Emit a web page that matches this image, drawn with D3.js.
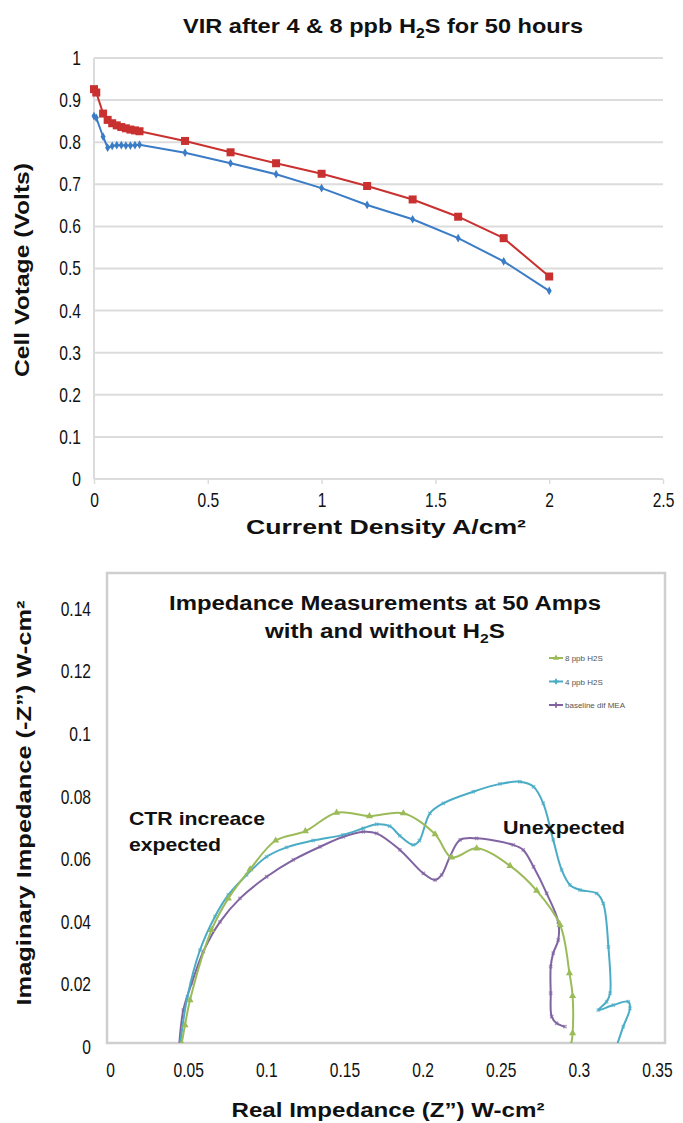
<!DOCTYPE html>
<html><head><meta charset="utf-8">
<script src="https://cdn.jsdelivr.net/npm/d3@7/dist/d3.min.js"></script>
<style>
body{margin:0;background:#fff;}
svg{display:block;font-family:"Liberation Sans",Arial,sans-serif;}
</style></head>
<body>
<svg id="c" width="683" height="1123"></svg>
<script>
// ---------- Top chart data ----------
const currentDensity = [0, 0.01, 0.04, 0.06, 0.08, 0.1, 0.12, 0.14, 0.16, 0.18, 0.2, 0.4, 0.6, 0.8, 1.0, 1.2, 1.4, 1.6, 1.8, 2.0];
const voltage8ppb = [0.926, 0.918, 0.868, 0.853, 0.845, 0.840, 0.836, 0.833, 0.830, 0.828, 0.826, 0.803, 0.776, 0.750, 0.725, 0.696, 0.664, 0.623, 0.572, 0.481];
const voltage4ppb = [0.862, 0.858, 0.813, 0.787, 0.791, 0.793, 0.793, 0.792, 0.792, 0.793, 0.794, 0.775, 0.750, 0.724, 0.691, 0.651, 0.617, 0.572, 0.517, 0.447];
const topXTicks = [0, 0.5, 1, 1.5, 2, 2.5];
const topYTicks = [0, 0.1, 0.2, 0.3, 0.4, 0.5, 0.6, 0.7, 0.8, 0.9, 1];

// ---------- Bottom chart data (Z', -Z'') ----------
const green8ppbX = [0.0459, 0.048, 0.0512, 0.065, 0.0757, 0.0896, 0.106, 0.125, 0.145, 0.166, 0.1877, 0.208, 0.2186, 0.2346, 0.256, 0.273, 0.288, 0.294, 0.296, 0.296, 0.295];
const green8ppbY = [0.0012, 0.007, 0.015, 0.0374, 0.0475, 0.0568, 0.066, 0.069, 0.0749, 0.0738, 0.0747, 0.068, 0.0606, 0.0635, 0.0579, 0.050, 0.039, 0.0236, 0.0163, 0.0044, 0.0005];
const cyan4ppbX = [0.0448, 0.0495, 0.0576, 0.0672, 0.0757, 0.0874, 0.1002, 0.113, 0.130, 0.149, 0.162, 0.1706, 0.179, 0.1855, 0.194, 0.198, 0.2047, 0.2133, 0.2324, 0.2495, 0.2623, 0.271, 0.2772, 0.2836, 0.289, 0.2943, 0.3007, 0.3114, 0.3156, 0.3189, 0.320, 0.3178, 0.3124, 0.322, 0.3316, 0.3327, 0.3284, 0.3242];
const cyan4ppbY = [0.0005, 0.016, 0.031, 0.0417, 0.0486, 0.055, 0.0608, 0.0638, 0.066, 0.0678, 0.0699, 0.0712, 0.0706, 0.0675, 0.0646, 0.066, 0.0747, 0.0779, 0.0816, 0.0841, 0.0848, 0.0832, 0.0779, 0.0662, 0.0566, 0.0518, 0.0502, 0.0491, 0.0459, 0.032, 0.0172, 0.0145, 0.0118, 0.0134, 0.0145, 0.0124, 0.0065, 0.0003];
const purpleBaseX = [0.0443, 0.0469, 0.0523, 0.0597, 0.0704, 0.0832, 0.1002, 0.1173, 0.1344, 0.1493, 0.1621, 0.1706, 0.1855, 0.2005, 0.208, 0.2122, 0.2175, 0.224, 0.2346, 0.258, 0.2644, 0.271, 0.2794, 0.2868, 0.2868, 0.2836, 0.282, 0.282, 0.2826, 0.2858, 0.2911];
const purpleBaseY = [0.0005, 0.0118, 0.0204, 0.0305, 0.040, 0.0475, 0.0544, 0.0598, 0.064, 0.0672, 0.0688, 0.0683, 0.063, 0.0555, 0.0534, 0.055, 0.0608, 0.0662, 0.0667, 0.0646, 0.063, 0.0576, 0.0491, 0.040, 0.0342, 0.030, 0.0257, 0.0172, 0.0097, 0.0076, 0.0065];
const botXTicks = [0, 0.05, 0.1, 0.15, 0.2, 0.25, 0.3, 0.35];
const botYTicks = [0, 0.02, 0.04, 0.06, 0.08, 0.1, 0.12, 0.14];
const legendNames = ["8 ppb H2S", "4 ppb H2S", "baseline dif MEA"];

const svg = d3.select("#c");
const red = "#c8312f", blue = "#3b7cc6";
const green = "#9bbb59", cyan = "#4bacc6", purple = "#8064a2";
const TICK_FS = 20, SX = 0.78; // condensed tick labels

function condenseLeft(sel, pad) {
  sel.selectAll(".tick text").attr("font-size", TICK_FS).attr("fill", "#111")
    .attr("x", -pad / SX).attr("transform", `scale(${SX},1)`);
}
function condenseBottom(sel) {
  sel.selectAll(".tick text").attr("font-size", TICK_FS).attr("fill", "#111")
    .attr("transform", `scale(${SX},1)`);
}

// ================= TOP CHART =================
const x1 = d3.scaleLinear().domain([0, 2.5]).range([94, 663]);
const y1 = d3.scaleLinear().domain([0, 1]).range([479, 58]);
const topG = svg.append("g");

topG.append("g").selectAll("line").data(topYTicks).join("line")
  .attr("x1", x1(0)).attr("x2", x1(2.5))
  .attr("y1", d => y1(d)).attr("y2", d => y1(d))
  .attr("stroke", "#dcdcdc").attr("stroke-width", 2);
topG.append("line").attr("x1", x1(0)).attr("x2", x1(0)).attr("y1", y1(1)).attr("y2", y1(0))
  .attr("stroke", "#dcdcdc").attr("stroke-width", 2);

const xAxis1 = topG.append("g").attr("transform", `translate(0,${y1(0)})`)
  .call(d3.axisBottom(x1).tickValues(topXTicks).tickSize(5).tickPadding(9).tickFormat(d3.format("")));
xAxis1.select(".domain").remove();
xAxis1.selectAll(".tick line").attr("stroke", "#dcdcdc").attr("stroke-width", 1.5);
condenseBottom(xAxis1);

const yAxis1 = topG.append("g").attr("transform", `translate(${x1(0)},0)`)
  .call(d3.axisLeft(y1).tickValues(topYTicks).tickSize(0).tickFormat(d3.format("")));
yAxis1.select(".domain").remove();
condenseLeft(yAxis1, 13);

const line1 = d3.line().x(d => x1(d[0])).y(d => y1(d[1]));
const redPts = currentDensity.map((c, i) => [c, voltage8ppb[i]]);
const bluePts = currentDensity.map((c, i) => [c, voltage4ppb[i]]);
topG.append("path").attr("d", line1(redPts)).attr("fill", "none").attr("stroke", red).attr("stroke-width", 2);
topG.append("path").attr("d", line1(bluePts)).attr("fill", "none").attr("stroke", blue).attr("stroke-width", 2);
topG.append("g").selectAll("rect").data(redPts).join("rect")
  .attr("x", d => x1(d[0]) - 4).attr("y", d => y1(d[1]) - 4).attr("width", 8).attr("height", 8).attr("fill", red);
topG.append("g").selectAll("path").data(bluePts).join("path")
  .attr("transform", d => `translate(${x1(d[0])},${y1(d[1])})`)
  .attr("d", d3.symbol(d3.symbolDiamond, 22)).attr("fill", blue);

const ttl = topG.append("text").attr("x", 383).attr("y", 33).attr("text-anchor", "middle")
  .attr("font-size", 21).attr("font-weight", "bold").attr("fill", "#111")
  .attr("textLength", 400).attr("lengthAdjust", "spacingAndGlyphs");
ttl.append("tspan").text("VIR after 4 & 8 ppb H");
ttl.append("tspan").text("2").attr("font-size", 14).attr("dy", 5);
ttl.append("tspan").text("S for 50 hours").attr("dy", -5);

topG.append("text").attr("transform", "translate(29,270) rotate(-90)").attr("text-anchor", "middle")
  .attr("font-size", 20).attr("font-weight", "bold").attr("fill", "#111")
  .attr("textLength", 214).attr("lengthAdjust", "spacingAndGlyphs").text("Cell Votage (Volts)");
topG.append("text").attr("x", 386).attr("y", 534).attr("text-anchor", "middle")
  .attr("font-size", 20).attr("font-weight", "bold").attr("fill", "#111")
  .attr("textLength", 280).attr("lengthAdjust", "spacingAndGlyphs").text("Current Density A/cm²");

// ================= BOTTOM CHART =================
const x2 = d3.scaleLinear().domain([0, 0.35]).range([110, 657]);
const y2 = d3.scaleLinear().domain([0, 0.14]).range([1047, 609]);
const bot = svg.append("g");

bot.append("rect").attr("x", 107).attr("y", 573).attr("width", 558).attr("height", 470)
  .attr("fill", "#fff").attr("stroke", "#cfcfcf").attr("stroke-width", 2.5);

const xAxis2 = bot.append("g").attr("transform", `translate(0,1043)`)
  .call(d3.axisBottom(x2).tickValues(botXTicks).tickSize(0).tickPadding(20).tickFormat(d3.format("")));
xAxis2.select(".domain").remove();
condenseBottom(xAxis2);

const yAxis2 = bot.append("g").attr("transform", `translate(91,0)`)
  .call(d3.axisLeft(y2).tickValues(botYTicks).tickSize(0).tickFormat(d3.format("")));
yAxis2.select(".domain").remove();
condenseLeft(yAxis2, 0);

const line2 = d3.line().x(d => x2(d[0])).y(d => y2(d[1])).curve(d3.curveCatmullRom.alpha(0.5));
const series = [
  {name: legendNames[0], color: green, pts: green8ppbX.map((v, i) => [v, green8ppbY[i]]), marker: "tri"},
  {name: legendNames[1], color: cyan, pts: cyan4ppbX.map((v, i) => [v, cyan4ppbY[i]]), marker: "x"},
  {name: legendNames[2], color: purple, pts: purpleBaseX.map((v, i) => [v, purpleBaseY[i]]), marker: "x"}
];
bot.append("clipPath").attr("id", "pc").append("rect")
  .attr("x", 108).attr("y", 574).attr("width", 556).attr("height", 469);
const sg = bot.append("g").attr("clip-path", "url(#pc)");
[series[2], series[1], series[0]].forEach(s => {
  sg.append("path").attr("d", line2(s.pts)).attr("fill", "none").attr("stroke", s.color).attr("stroke-width", 2);
  if (s.marker === "tri") {
    sg.append("g").selectAll("path").data(s.pts).join("path")
      .attr("transform", d => `translate(${x2(d[0])},${y2(d[1])})`)
      .attr("d", d3.symbol(d3.symbolTriangle, 22)).attr("fill", s.color);
  } else {
    sg.append("g").selectAll("path").data(s.pts).join("path")
      .attr("transform", d => `translate(${x2(d[0])},${y2(d[1])}) rotate(45)`)
      .attr("d", d3.symbol(d3.symbolCross, 12)).attr("fill", s.color).attr("opacity", 0.6);
  }
});

const lg = bot.append("g");
series.forEach((s, i) => {
  const yy = 658 + i * 23.5;
  lg.append("line").attr("x1", 549).attr("x2", 563).attr("y1", yy).attr("y2", yy).attr("stroke", s.color).attr("stroke-width", 2);
  lg.append("path").attr("transform", `translate(556,${yy})`)
    .attr("d", d3.symbol(s.marker === "tri" ? d3.symbolTriangle : d3.symbolCross, 16)).attr("fill", s.color);
  lg.append("text").attr("x", 565).attr("y", yy + 3).attr("font-size", 8).attr("fill", "#555").text(s.name);
});

const bt = bot.append("g").attr("font-weight", "bold").attr("font-size", 20).attr("fill", "#111").attr("text-anchor", "middle");
bt.append("text").attr("x", 385).attr("y", 610).attr("textLength", 432).attr("lengthAdjust", "spacingAndGlyphs")
  .text("Impedance Measurements at 50 Amps");
const bt2 = bt.append("text").attr("x", 385).attr("y", 638).attr("textLength", 240).attr("lengthAdjust", "spacingAndGlyphs");
bt2.append("tspan").text("with and without H");
bt2.append("tspan").text("2").attr("font-size", 13).attr("dy", 5);
bt2.append("tspan").text("S").attr("dy", -5);

const ann = bot.append("g").attr("font-size", 19).attr("font-weight", "bold").attr("fill", "#111");
ann.append("text").attr("x", 129).attr("y", 825).attr("textLength", 136).attr("lengthAdjust", "spacingAndGlyphs").text("CTR increace");
ann.append("text").attr("x", 129).attr("y", 851).attr("textLength", 92).attr("lengthAdjust", "spacingAndGlyphs").text("expected");
ann.append("text").attr("x", 503).attr("y", 834).attr("textLength", 122).attr("lengthAdjust", "spacingAndGlyphs").text("Unexpected");

bot.append("text").attr("x", 388).attr("y", 1117).attr("text-anchor", "middle")
  .attr("font-size", 20).attr("font-weight", "bold").attr("fill", "#111")
  .attr("textLength", 313).attr("lengthAdjust", "spacingAndGlyphs").text("Real Impedance (Z\u201d) W-cm²");
bot.append("text").attr("transform", "translate(31,803) rotate(-90)").attr("text-anchor", "middle")
  .attr("font-size", 20).attr("font-weight", "bold").attr("fill", "#111")
  .attr("textLength", 405).attr("lengthAdjust", "spacingAndGlyphs").text("Imaginary Impedance (-Z\u201d) W-cm²");
</script>
</body></html>
